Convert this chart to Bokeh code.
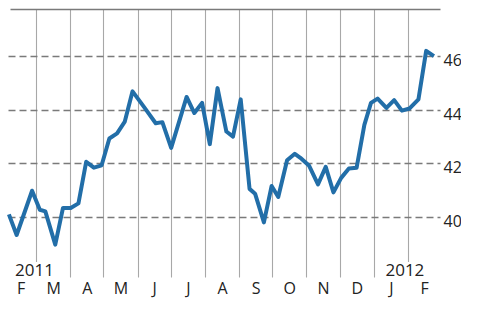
import pandas as pd
from bokeh.plotting import figure
from bokeh.models import Range1d, Grid, FixedTicker
from bokeh.core.properties import value
from bokeh.embed import file_html
from bokeh.resources import INLINE

# ---- data ----
dates = ["2011-02-04", "2011-02-11", "2011-02-25", "2011-03-04", "2011-03-09",
         "2011-03-18", "2011-03-25", "2011-04-01", "2011-04-08", "2011-04-15",
         "2011-04-22", "2011-04-29", "2011-05-06", "2011-05-13", "2011-05-20",
         "2011-05-27", "2011-06-06", "2011-06-17", "2011-06-23", "2011-07-01",
         "2011-07-15", "2011-07-22", "2011-07-29", "2011-08-05", "2011-08-12",
         "2011-08-20", "2011-08-26", "2011-09-02", "2011-09-10", "2011-09-15",
         "2011-09-23", "2011-09-30", "2011-10-06", "2011-10-14", "2011-10-21",
         "2011-10-26", "2011-11-03", "2011-11-11", "2011-11-18", "2011-11-25",
         "2011-12-02", "2011-12-09", "2011-12-16", "2011-12-23", "2011-12-29",
         "2012-01-04", "2012-01-12", "2012-01-19", "2012-01-26", "2012-02-02",
         "2012-02-10", "2012-02-17", "2012-02-24"]
values = [40.12, 39.35, 41.00, 40.29, 40.23,
          38.99, 40.36, 40.36, 40.53, 42.08,
          41.86, 41.95, 42.95, 43.14, 43.58,
          44.71, 44.15, 43.52, 43.56, 42.60,
          44.50, 43.90, 44.28, 42.74, 44.83,
          43.21, 43.02, 44.41, 41.07, 40.89,
          39.82, 41.18, 40.77, 42.14, 42.38,
          42.23, 41.93, 41.24, 41.89, 40.94,
          41.48, 41.83, 41.86, 43.46, 44.28,
          44.44, 44.09, 44.38, 43.99, 44.07,
          44.41, 46.22, 46.02]
month_labels = ["F", "M", "A", "M", "J", "J", "A", "S", "O", "N", "D", "J", "F"]
month_starts = ["2011-02-01", "2011-03-01", "2011-04-01", "2011-05-01", "2011-06-01",
                "2011-07-01", "2011-08-01", "2011-09-01", "2011-10-01", "2011-11-01",
                "2011-12-01", "2012-01-01", "2012-02-01", "2012-03-01"]
y_ticks = [40, 42, 44, 46]
y_tick_labels = ["40", "42", "44", "46"]
year_labels = ["2011", "2012"]

# ---- conversions ----
origin = pd.Timestamp("2011-03-01")
def to_days(s):
    return [(pd.Timestamp(d) - origin).days for d in s]

x = to_days(dates)
ms = to_days(month_starts)
month_mid = [(a + b) / 2 for a, b in zip(ms[:-1], ms[1:])]
grid_ticks = ms[1:-1]

# ---- layout constants ----
X_LEFT, X_RIGHT = -32.61, 385.0
Y_BOTTOM_FIG, Y_TOP_FIG = 36.905, 48.099
CHART_LEFT = -25.36
CHART_RIGHT = ms[-1]
CHART_BOTTOM = 37.763
CHART_TOP = 47.763

FONT = value("Open Sans")
TXT = "#222222"

p = figure(width=461, height=300, output_backend="svg", toolbar_location=None,
           x_range=Range1d(X_LEFT, X_RIGHT), y_range=Range1d(Y_BOTTOM_FIG, Y_TOP_FIG),
           x_axis_location=None, y_axis_location=None,
           min_border=0, min_border_left=0, min_border_right=0,
           min_border_top=0, min_border_bottom=0)
p.outline_line_color = None
p.background_fill_color = "white"
p.border_fill_color = "white"
p.grid.visible = False

vgrid = Grid(dimension=0, ticker=FixedTicker(ticks=grid_ticks),
             cross_bounds=(CHART_BOTTOM, CHART_TOP),
             grid_line_color="#a8a8a8", grid_line_width=1.1)
hgrid = Grid(dimension=1, ticker=FixedTicker(ticks=y_ticks),
             cross_bounds=(CHART_LEFT, CHART_RIGHT),
             grid_line_color="#7a7a7a", grid_line_width=1.3, grid_line_dash="7 4")
topline = Grid(dimension=1, ticker=FixedTicker(ticks=[CHART_TOP]),
               cross_bounds=(CHART_LEFT + 2, CHART_RIGHT),
               grid_line_color="#7a7a7a", grid_line_width=1.6)
p.add_layout(vgrid)
p.add_layout(hgrid)
p.add_layout(topline)

p.line(x, values, line_color="#226ea8", line_width=4, line_join="round")

# y labels on the right
p.text(x=[368.7] * len(y_ticks), y=[t - 0.12 for t in y_ticks], text=y_tick_labels,
       text_font=FONT, text_font_size="16px", text_color=TXT,
       text_align="left", text_baseline="middle")

# month labels
p.text(x=month_mid, y=[37.36] * len(month_mid), text=month_labels,
       text_font=FONT, text_font_size="16px", text_color=TXT,
       text_align="center", text_baseline="middle")

# year labels inside plot
p.text(x=[-21.3, 314.3], y=[38.04, 38.04], text=year_labels,
       text_font=FONT, text_font_size="17px", text_color=TXT,
       text_align="left", text_baseline="middle",
       background_fill_color="white", padding=2)

open("out.html", "w").write(file_html(p, INLINE))
